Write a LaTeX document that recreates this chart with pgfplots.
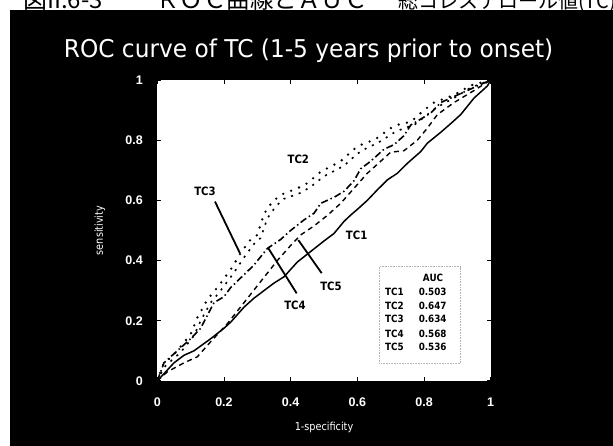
\documentclass[border=0pt]{standalone}
\usepackage{fontspec}
\usepackage{pgfplots}
\pgfplotsset{compat=1.18}
\setmainfont{DejaVu Sans}
\newfontfamily\titlefont{DejaVu Sans}[FakeStretch=0.95]
\newfontfamily\condfont{DejaVu Sans}[FakeStretch=0.88]
\newfontfamily\tickfont{Liberation Sans}
\newfontfamily\jpfont{Noto Sans CJK JP}
\begin{document}
\begin{tikzpicture}
\path[use as bounding box, clip] (0pt,0pt) rectangle (613pt,446pt);
\fill[white] (0pt,0pt) rectangle (613pt,446pt);
\fill[black] (10pt,0pt) rectangle (613pt,436pt);
\node[anchor=base west, inner sep=0pt] at (23pt,437pt) {\jpfont\fontsize{24}{24}\selectfont 図II.6-3};
\node[anchor=base west, inner sep=0pt] at (156pt,437pt) {\jpfont\fontsize{23.5}{24}\selectfont ＲＯＣ曲線とＡＵＣ};
\node[anchor=base west, inner sep=0pt] at (398pt,437pt) {\jpfont\fontsize{20}{24}\selectfont 総コレステロール値(TC)};
\node[anchor=base, inner sep=0pt, text=white] at (308.6pt,388pt) {\titlefont\fontsize{24.5}{26}\selectfont ROC curve of TC (1-5 years prior to onset)};
\begin{axis}[
  at={(157.3pt,65.1pt)}, anchor=south west, scale only axis,
  width=333.4pt, height=300.9pt,
  xmin=0, xmax=1, ymin=0, ymax=1,
  axis background/.style={fill=white},
  axis line style={draw=none},
  xtick={0,0.2,0.4,0.6,0.8,1}, ytick={0,0.2,0.4,0.6,0.8,1},
  xticklabels={0,0.2,0.4,0.6,0.8,1}, yticklabels={0,0.2,0.4,0.6,0.8,1},
  tick align=inside, major tick length=4pt, tick style={black, line width=0.9pt},
  xticklabel style={font=\tickfont\bfseries\fontsize{12.5}{13}\selectfont, text=white, anchor=center, yshift=-21pt},
  yticklabel style={font=\tickfont\bfseries\fontsize{12.5}{13}\selectfont, text=white, anchor=east, xshift=-11pt},
  xlabel={1-specificity}, ylabel={sensitivity},
  xlabel style={font=\condfont\fontsize{11}{12}\selectfont, text=white, at={(axis description cs:0.5,-0.156)}, anchor=center},
  ylabel style={font=\condfont\fontsize{11}{12}\selectfont, text=white, at={(axis description cs:-0.172,0.5)}, anchor=center},
  clip=false,
]
% TC1 solid
\addplot[black, line width=1.5pt] coordinates {
(0,0)(0.01,0.012)(0.05,0.06)(0.08,0.085)(0.11,0.10)(0.16,0.14)(0.2,0.175)(0.22,0.195)(0.26,0.245)(0.29,0.275)(0.32,0.30)(0.35,0.325)(0.38,0.346)(0.42,0.395)(0.46,0.43)(0.5,0.465)(0.53,0.49)(0.56,0.53)(0.58,0.551)(0.6,0.57)(0.63,0.60)(0.66,0.635)(0.69,0.668)(0.72,0.69)(0.75,0.723)(0.79,0.762)(0.81,0.79)(0.85,0.826)(0.88,0.855)(0.91,0.885)(0.95,0.94)(0.99,0.98)(1,1)};
% TC2 dotted
\addplot[black, line width=2.6pt, line cap=round, dash pattern=on 0pt off 8.5pt] coordinates {
(0,0)(0.015,0.05)(0.06,0.10)(0.10,0.155)(0.12,0.21)(0.15,0.27)(0.18,0.31)(0.22,0.37)(0.25,0.425)(0.28,0.47)(0.30,0.485)(0.32,0.555)(0.345,0.595)(0.37,0.618)(0.42,0.64)(0.45,0.657)(0.49,0.695)(0.55,0.73)(0.59,0.77)(0.62,0.79)(0.65,0.80)(0.70,0.84)(0.73,0.855)(0.76,0.86)(0.80,0.90)(0.83,0.925)(0.89,0.95)(0.94,0.982)(1,1)};
% TC3 short dashes
\addplot[black, line width=1.6pt, dash pattern=on 2pt off 6pt] coordinates {
(0,0)(0.02,0.045)(0.07,0.095)(0.11,0.15)(0.13,0.20)(0.16,0.26)(0.19,0.30)(0.23,0.36)(0.26,0.41)(0.29,0.455)(0.31,0.475)(0.33,0.54)(0.355,0.58)(0.38,0.605)(0.43,0.625)(0.46,0.645)(0.5,0.68)(0.56,0.715)(0.6,0.755)(0.63,0.775)(0.66,0.79)(0.71,0.825)(0.74,0.84)(0.77,0.85)(0.81,0.885)(0.84,0.91)(0.89,0.94)(0.94,0.975)(1,1)};
% TC4 dash-dot
\addplot[black, line width=1.6pt, dash pattern=on 7pt off 3pt on 1.5pt off 3pt] coordinates {
(0,0)(0.02,0.06)(0.07,0.11)(0.10,0.14)(0.13,0.175)(0.17,0.26)(0.20,0.28)(0.22,0.31)(0.29,0.385)(0.33,0.44)(0.37,0.47)(0.40,0.50)(0.44,0.535)(0.47,0.557)(0.49,0.59)(0.53,0.61)(0.56,0.63)(0.59,0.665)(0.61,0.705)(0.64,0.73)(0.68,0.77)(0.71,0.785)(0.74,0.815)(0.76,0.85)(0.82,0.89)(0.85,0.925)(0.89,0.945)(0.95,0.975)(1,1)};
% TC5 dashed
\addplot[black, line width=1.4pt, dash pattern=on 5pt off 4pt] coordinates {
(0,0)(0.03,0.03)(0.08,0.06)(0.12,0.08)(0.16,0.13)(0.21,0.19)(0.26,0.26)(0.31,0.33)(0.36,0.40)(0.40,0.45)(0.43,0.485)(0.47,0.515)(0.51,0.55)(0.55,0.59)(0.59,0.64)(0.63,0.69)(0.66,0.72)(0.70,0.76)(0.74,0.765)(0.78,0.80)(0.81,0.84)(0.84,0.885)(0.89,0.925)(0.95,0.965)(1,1)};
% annotations
\draw[line width=1.8pt] (axis cs:0.173,0.596) -- (axis cs:0.248,0.424);
\draw[line width=1.8pt] (axis cs:0.418,0.291) -- (axis cs:0.333,0.441);
\draw[line width=1.8pt] (axis cs:0.493,0.358) -- (axis cs:0.423,0.468);
\node[font=\condfont\bfseries\fontsize{11.5}{12}\selectfont] at (axis cs:0.423,0.736) {TC2};
\node[font=\condfont\bfseries\fontsize{11.5}{12}\selectfont] at (axis cs:0.143,0.629) {TC3};
\node[font=\condfont\bfseries\fontsize{11.5}{12}\selectfont] at (axis cs:0.413,0.252) {TC4};
\node[font=\condfont\bfseries\fontsize{11.5}{12}\selectfont] at (axis cs:0.521,0.315) {TC5};
\node[font=\condfont\bfseries\fontsize{11.5}{12}\selectfont] at (axis cs:0.598,0.485) {TC1};
% AUC box
\draw[gray!60, densely dotted, line width=0.6pt] (axis cs:0.666,0.058) rectangle (axis cs:0.909,0.38);
\node[font=\condfont\bfseries\fontsize{10}{11}\selectfont] at (axis cs:0.827,0.341) {AUC};
\node[font=\condfont\bfseries\fontsize{10}{11}\selectfont, anchor=west, inner sep=0pt] at (axis cs:0.683,0.297) {TC1};
\node[font=\condfont\bfseries\fontsize{10}{11}\selectfont, anchor=west, inner sep=0pt] at (axis cs:0.683,0.249) {TC2};
\node[font=\condfont\bfseries\fontsize{10}{11}\selectfont, anchor=west, inner sep=0pt] at (axis cs:0.683,0.205) {TC3};
\node[font=\condfont\bfseries\fontsize{10}{11}\selectfont, anchor=west, inner sep=0pt] at (axis cs:0.683,0.156) {TC4};
\node[font=\condfont\bfseries\fontsize{10}{11}\selectfont, anchor=west, inner sep=0pt] at (axis cs:0.683,0.112) {TC5};
\node[font=\condfont\bfseries\fontsize{10}{11}\selectfont] at (axis cs:0.826,0.297) {0.503};
\node[font=\condfont\bfseries\fontsize{10}{11}\selectfont] at (axis cs:0.826,0.249) {0.647};
\node[font=\condfont\bfseries\fontsize{10}{11}\selectfont] at (axis cs:0.826,0.205) {0.634};
\node[font=\condfont\bfseries\fontsize{10}{11}\selectfont] at (axis cs:0.826,0.156) {0.568};
\node[font=\condfont\bfseries\fontsize{10}{11}\selectfont] at (axis cs:0.826,0.112) {0.536};
\end{axis}
\end{tikzpicture}
\end{document}
